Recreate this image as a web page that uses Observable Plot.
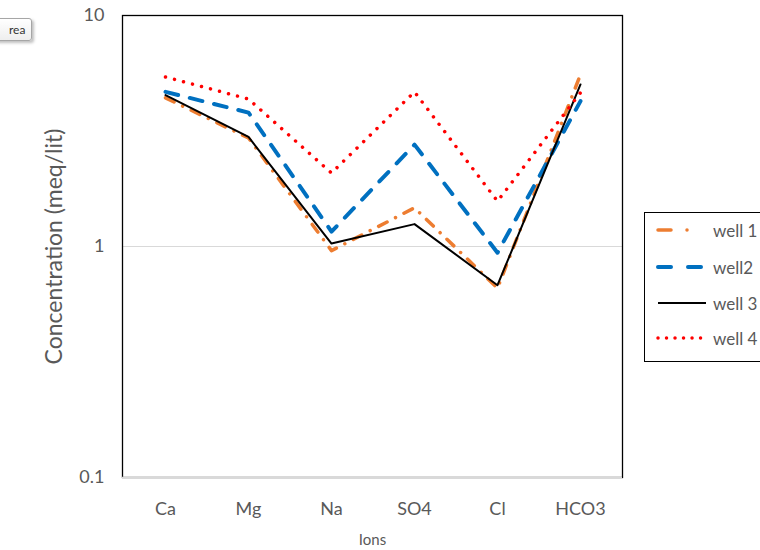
<!DOCTYPE html>
<html>
<head>
<meta charset="utf-8">
<script src="https://cdn.jsdelivr.net/npm/d3@7"></script>
<script src="https://cdn.jsdelivr.net/npm/@observablehq/plot@0.6"></script>
<style>
  html, body { margin: 0; padding: 0; background: #fff; overflow: hidden; }
  body { width: 760px; height: 550px; position: relative; font-family: Lato, "Open Sans", sans-serif; }
  #chart { position: absolute; left: 0; top: 0; }
  #tag { position: absolute; left: -6px; top: 18px; height: 21px; padding: 0 6px 0 14px; border: 1px solid #a6a6a6; border-radius: 3px;
         background: linear-gradient(#ffffff, #eeeeee); box-shadow: 2px 2px 3px rgba(0,0,0,0.25); font: 12px Lato, sans-serif; color: #333; line-height: 21px; }
  #legend { position: absolute; left: 644px; top: 212px; width: 140px; height: 150px; border: 1px solid #000; background: #fff; box-sizing: border-box; }
  .row { position: absolute; left: 9px; height: 20px; display: flex; align-items: center; }
  .row span { font: 17px Lato, sans-serif; color: #595959; margin-left: 5px; }
</style>
</head>
<body>
<div id="chart"></div>
<div id="tag">rea</div>
<div id="legend"></div>
<script>
const ions  = ["Ca", "Mg", "Na", "SO4", "Cl", "HCO3"];
const well1 = [4.40, 2.95, 0.96, 1.47, 0.66, 5.55];
const well2 = [4.67, 3.80, 1.16, 2.76, 0.94, 4.26];
const well3 = [4.52, 2.98, 1.03, 1.25, 0.68, 5.03];
const well4 = [5.42, 4.35, 2.08, 4.67, 1.57, 4.63];
const yTicks = [0.1, 1, 10];
const yTickLabels = ["0.1", "1", "10"];
const seriesNames = ["well 1", "well2", "well 3", "well 4"];

const styles = [
  {stroke: "#ED7D31", strokeWidth: 3.5, strokeDasharray: "9.5,9.5,0.01,9.5", strokeLinecap: "round"},
  {stroke: "#0070C0", strokeWidth: 4, strokeDasharray: "13,12", strokeLinecap: "round"},
  {stroke: "#000000", strokeWidth: 2},
  {stroke: "#FF0000", strokeWidth: 3.5, strokeDasharray: "0.01,9.3", strokeLinecap: "round"}
];
const legendDash = ["13,16,0.01,40", "13,17,13,40", null, "0.01,8.5"];
const series = [well1, well2, well3, well4];

const plot = Plot.plot({
  width: 760,
  height: 550,
  marginLeft: 122,
  marginRight: 138,
  marginTop: 15,
  marginBottom: 73,
  style: {color: "#595959", fontFamily: "Lato, 'Open Sans', sans-serif", background: "transparent"},
  x: {type: "point", domain: ions, padding: 0.5},
  y: {type: "log", domain: [0.1, 10]},
  marks: [
    Plot.ruleY([1], {stroke: "#d9d9d9", strokeWidth: 1}),
    Plot.frame({stroke: "#000", strokeWidth: 1.3}),
    Plot.ruleY([0.1], {stroke: "#d9d9d9", strokeWidth: 1.5}),
    Plot.axisY({ticks: yTicks, tickFormat: (d) => yTickLabels[yTicks.indexOf(d)], tickSize: 0, tickPadding: 18, fontSize: 18, label: null}),
    Plot.axisX({tickSize: 0, tickPadding: 25, fontSize: 18, label: null}),
    Plot.text(["Concentration (meq/lit)"], {frameAnchor: "left", textAnchor: "middle", rotate: -90, dx: -68, fontSize: 23, fill: "#595959"}),
    Plot.text(["Ions"], {frameAnchor: "bottom", dy: 67, fontSize: 15, fill: "#595959"}),
    ...series.map((s, k) => Plot.line(s, {x: ions, y: (d) => d, ...styles[k]}))
  ]
});
document.getElementById("chart").appendChild(plot);

// legend
const legend = document.getElementById("legend");
const rowTops = [7, 44, 80, 115];
seriesNames.forEach((name, k) => {
  const row = document.createElement("div");
  row.className = "row";
  row.style.top = rowTops[k] + "px";
  const st = styles[k];
  const ns = "http://www.w3.org/2000/svg";
  const svg = document.createElementNS(ns, "svg");
  svg.setAttribute("width", 54);
  svg.setAttribute("height", 20);
  const ln = document.createElementNS(ns, "line");
  ln.setAttribute("x1", 4); ln.setAttribute("x2", 52);
  ln.setAttribute("y1", 10); ln.setAttribute("y2", 10);
  ln.setAttribute("stroke", st.stroke);
  ln.setAttribute("stroke-width", st.strokeWidth);
  if (legendDash[k]) ln.setAttribute("stroke-dasharray", legendDash[k]);
  if (st.strokeLinecap) ln.setAttribute("stroke-linecap", st.strokeLinecap);
  svg.appendChild(ln);
  row.appendChild(svg);
  const t = document.createElement("span");
  t.textContent = name;
  row.appendChild(t);
  legend.appendChild(row);
});
</script>
</body>
</html>
